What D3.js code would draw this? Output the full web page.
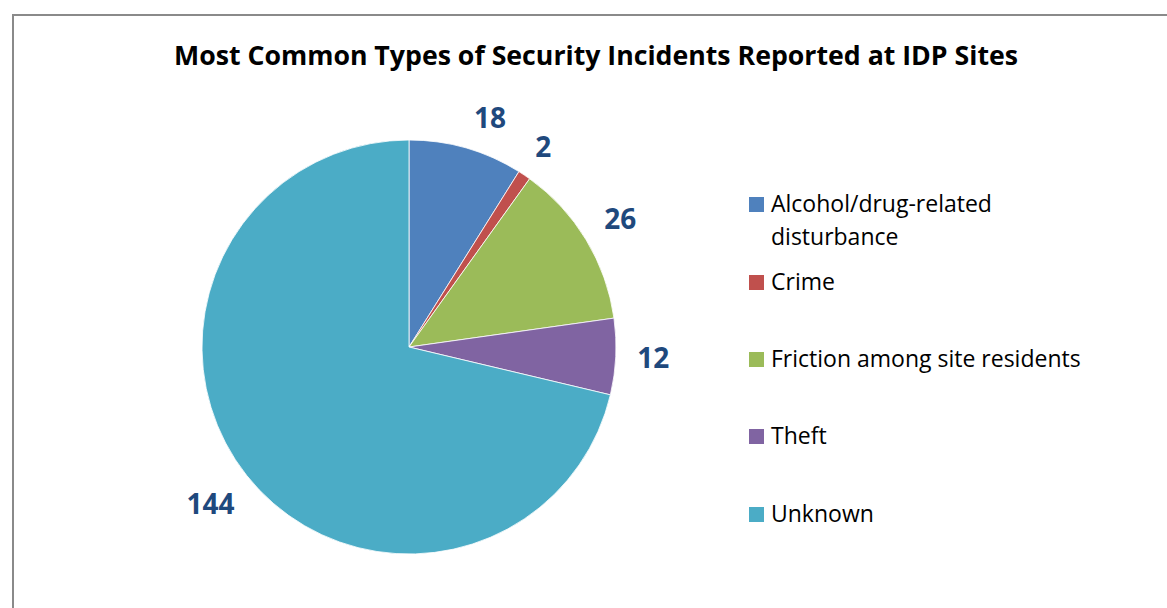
<!DOCTYPE html>
<html>
<head>
<meta charset="utf-8">
<script src="https://cdn.jsdelivr.net/npm/d3@7"></script>
<style>
  html, body { margin: 0; padding: 0; background: #fff; }
  svg { display: block; }
</style>
</head>
<body>
<svg id="chart" width="1167" height="608"></svg>
<script>
// Incident categories and counts
const categories = [
  "Alcohol/drug-related disturbance",
  "Crime",
  "Friction among site residents",
  "Theft",
  "Unknown"
];
const legendLines = [
  ["Alcohol/drug-related", "disturbance"],
  ["Crime"],
  ["Friction among site residents"],
  ["Theft"],
  ["Unknown"]
];
const counts = [18, 2, 26, 12, 144];
const sliceColors = ["#4F81BD", "#C0504D", "#9BBB59", "#8064A2", "#4BACC6"];
const titleText = "Most Common Types of Security Incidents Reported at IDP Sites";

const svg = d3.select("#chart");
const fontFamily = "'Open Sans', 'Noto Sans', sans-serif";

// Chart frame (open on the right and bottom edges of the page)
svg.append("rect")
  .attr("x", 13).attr("y", 15)
  .attr("width", 1200).attr("height", 700)
  .attr("fill", "#fff")
  .attr("stroke", "#8a8a8a")
  .attr("stroke-width", 2);

// Title
svg.append("text")
  .attr("x", 596).attr("y", 65)
  .attr("text-anchor", "middle")
  .attr("font-family", fontFamily)
  .attr("font-weight", "bold")
  .attr("font-size", 26.7)
  .attr("fill", "#000")
  .text(titleText);

// Pie
const cx = 409, cy = 347, radius = 207;
const data = categories.map((c, i) => ({ name: c, value: counts[i], color: sliceColors[i] }));
const pie = d3.pie().value(d => d.value).sort(null).startAngle(0).endAngle(2 * Math.PI);
const arcs = pie(data);
const arc = d3.arc().innerRadius(0).outerRadius(radius);

const g = svg.append("g").attr("transform", `translate(${cx},${cy})`);
g.selectAll("path.slice")
  .data(arcs)
  .join("path")
  .attr("class", "slice")
  .attr("d", arc)
  .attr("fill", d => d.data.color)
  .attr("stroke", "#fff")
  .attr("stroke-width", 0.8);

// Value labels placed just outside each slice
const labelSize = 28;
const labelGap = 21;
const labels = g.selectAll("text.value")
  .data(arcs)
  .join("text")
  .attr("class", "value")
  .attr("font-family", fontFamily)
  .attr("font-weight", "bold")
  .attr("font-size", labelSize)
  .attr("fill", "#1F497D")
  .attr("text-anchor", "middle")
  .text(d => d.data.value);

labels.each(function(d) {
  const w = this.getComputedTextLength();
  const h = labelSize * 0.72;
  // the first small slice at the top gets its label nudged clockwise
  const a = (d.startAngle + d.endAngle) / 2 + (d.index === 0 ? 0.06 : 0);
  const s = Math.sin(a), c = -Math.cos(a);
  const dist = radius + labelGap + Math.abs(s) * w / 2 + Math.abs(c) * h / 2;
  d3.select(this)
    .attr("x", s * dist)
    .attr("y", c * dist + h / 2);
});

// Legend
const legendX = 749, legendTextX = 771;
const legendBase = [212, 290, 367, 444, 522];
const legendFont = 23;
const legend = svg.append("g");
legendLines.forEach((lines, i) => {
  legend.append("rect")
    .attr("x", legendX).attr("y", legendBase[i] - 15)
    .attr("width", 15).attr("height", 15)
    .attr("fill", sliceColors[i]);
  const t = legend.append("text")
    .attr("font-family", fontFamily)
    .attr("font-size", legendFont)
    .attr("fill", "#000");
  lines.forEach((ln, j) => {
    t.append("tspan")
      .attr("x", legendTextX)
      .attr("y", legendBase[i] + j * 32.5)
      .text(ln);
  });
});
</script>
</body>
</html>
